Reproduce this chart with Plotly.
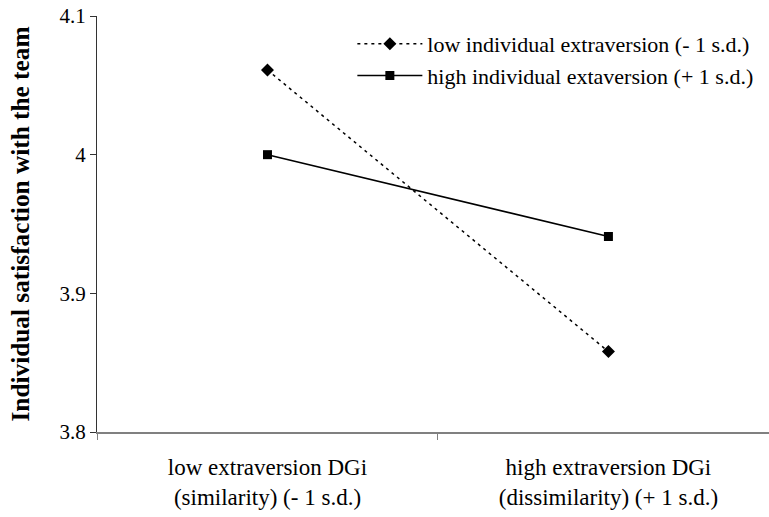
import plotly.graph_objects as go

categories = ["low extraversion DGi<br>(similarity) (- 1 s.d.)",
              "high extraversion DGi<br>(dissimilarity) (+ 1 s.d.)"]
low_ind = [4.061, 3.858]
high_ind = [4.000, 3.941]
series_names = ["low individual extraversion (- 1 s.d.)",
                "high individual extaversion (+ 1 s.d.)"]
y_ticks = [3.8, 3.9, 4.0, 4.1]
y_ticktext = ["3.8", "3.9", "4", "4.1"]

fig = go.Figure()
fig.add_trace(go.Scatter(
    x=categories, y=low_ind, name=series_names[0], mode="lines+markers",
    legendgroup="a",
    line=dict(color="black", width=1.5, dash="3px,4px"),
    marker=dict(symbol="diamond", size=10, color="black")))
fig.add_trace(go.Scatter(
    x=categories, y=high_ind, name=series_names[1], mode="lines+markers",
    legendgroup="b",
    line=dict(color="black", width=1.5),
    marker=dict(symbol="square", size=9, color="black")))

fig.update_layout(
    width=769, height=517,
    margin=dict(l=97, r=0, t=16, b=85),
    paper_bgcolor="white", plot_bgcolor="white",
    font=dict(family="Liberation Serif", color="black"),
    showlegend=True,
    legend=dict(x=0.38, y=0.983, xanchor="left", yanchor="top",
                font=dict(size=22, family="Liberation Serif"),
                bgcolor="rgba(0,0,0,0)", tracegroupgap=0, itemwidth=65),
    xaxis=dict(type="category", range=[-0.5, 1.471], tickson="boundaries",
               ticks="outside", ticklen=6, tickcolor="#808080",
               showline=True, linecolor="#808080", linewidth=1.5,
               showgrid=False, zeroline=False, automargin=False,
               tickfont=dict(size=23, family="Liberation Serif"),
               ticklabelstandoff=14, ticklabeloverflow="allow"),
    yaxis=dict(range=[3.8, 4.1], tickvals=y_ticks, ticktext=y_ticktext,
               ticks="outside", ticklen=6, tickcolor="#333",
               showline=True, linecolor="#333", linewidth=1,
               showgrid=False, zeroline=False, automargin=False,
               tickfont=dict(size=21, family="Liberation Serif"),
               ticklabeloverflow="allow",
               title=dict(text="<b>Individual satisfaction with the team</b>",
                          font=dict(size=25.3, family="Liberation Serif"),
                          standoff=22)),
)

fig.write_html("out.html",
               config={"displayModeBar": False},
               post_script="document.body.style.margin='0';"
                           "document.body.style.overflow='hidden';")
